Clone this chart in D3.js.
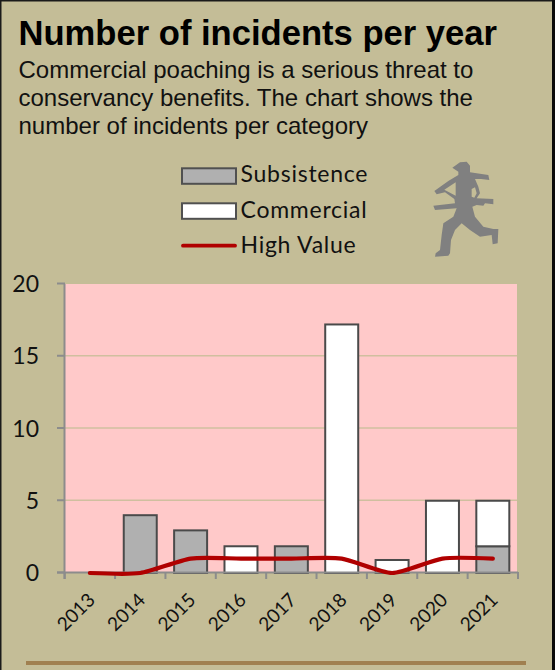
<!DOCTYPE html>
<html>
<head>
<meta charset="utf-8">
<script src="https://cdn.jsdelivr.net/npm/d3@7/dist/d3.min.js"></script>
<style>
html,body{margin:0;padding:0;background:#fff;overflow:hidden}
svg{display:block}
</style>
</head>
<body>
<div id="chart"></div>
<script>
const years = ["2013","2014","2015","2016","2017","2018","2019","2020","2021"];
const subsistence = [0,4,2.95,0,1.85,0,0,0,1.85];
const commercial = [0,0,0,1.85,0,17.2,0.9,5,3.15];
const highValue = [0,0,1,1,1,1,0,1,1];
const yTicks = [0,5,10,15,20];
const titleText = "Number of incidents per year";
const subtitleLines = ["Commercial poaching is a serious threat to","conservancy benefits. The chart shows the","number of incidents per category"];
const legendLabels = ["Subsistence","Commercial","High Value"];
// Decorative running-figure silhouette outline
const runnerOutline = [[105,22],[125,20],[135,32],[135,52],[190,60],[193,75],[168,72],[150,72],[160,95],[165,115],[155,130],[205,132],[205,148],[180,145],[175,152],[155,150],[142,155],[150,185],[175,215],[205,222],[220,222],[218,265],[203,268],[200,240],[165,245],[135,225],[110,205],[90,225],[78,255],[75,295],[70,302],[30,305],[32,295],[45,285],[50,240],[55,205],[85,185],[95,160],[30,165],[25,152],[90,145],[88,132],[60,112],[35,118],[28,108],[70,78],[100,60],[100,50],[82,38]];
const runnerGaps = [[[58,104],[92,82],[92,122]],[[140,102],[150,97],[155,115],[148,128],[140,125]]];

const svg = d3.select("#chart").append("svg").attr("width",560).attr("height",670);
svg.append("rect").attr("x",0).attr("y",0).attr("width",555).attr("height",670).attr("fill","#c4bd97");
svg.append("rect").attr("x",0).attr("y",0).attr("width",1.5).attr("height",670).attr("fill","#1a1a1a");
svg.append("rect").attr("x",0).attr("y",0).attr("width",555).attr("height",1.5).attr("fill","#1a1a1a");
svg.append("rect").attr("x",552).attr("y",0).attr("width",3).attr("height",670).attr("fill","#0a0a0a");

svg.append("text").attr("x",18.5).attr("y",44.5).attr("font-family","'Liberation Sans',Arial,sans-serif")
  .attr("font-weight","bold").attr("font-size",34.6).attr("fill","#000").text(titleText);
const subBase = [77.5,105.5,134];
svg.selectAll("text.sub").data(subtitleLines).join("text").attr("class","sub")
  .attr("x",18.5).attr("y",(d,i)=>subBase[i]).attr("font-family","'Liberation Sans',Arial,sans-serif")
  .attr("font-size",24).attr("fill","#111").text(d=>d);

const x = d3.scaleBand().domain(years).range([64.7,518]).paddingInner(0.345).paddingOuter(0.1725);
const xTickScale = d3.scaleBand().domain(years).range([64.7,518]);
const y = d3.scaleLinear().domain([0,20]).range([573,284]);

svg.append("rect").attr("x",65).attr("y",284).attr("width",452).attr("height",289).attr("fill","#ffc9c9");
svg.selectAll("line.grid").data(yTicks.filter(d=>d>0&&d<20)).join("line").attr("class","grid")
  .attr("x1",65).attr("x2",517).attr("y1",d=>y(d)-.5).attr("y2",d=>y(d)-.5)
  .attr("stroke","#d0bf9f").attr("stroke-width",1.6);

const seriesDefs = [{values:subsistence,fill:"#b0b0b0"},{values:commercial,fill:"#fff"}];
seriesDefs.forEach((s,si)=>{
  svg.append("g").selectAll("rect").data(years).join("rect")
    .filter((d,i)=>s.values[i]>0)
    .attr("x",d=>x(d)).attr("width",x.bandwidth())
    .attr("y",d=>{const i=years.indexOf(d);const base=si?subsistence[i]:0;return y(base+s.values[i]);})
    .attr("height",d=>y(0)-y(s.values[years.indexOf(d)]))
    .attr("fill",s.fill).attr("stroke","#4a4a4a").attr("stroke-width",2);
});

const axisColor = "#8c8c8c";
svg.append("line").attr("x1",64.5).attr("x2",64.5).attr("y1",284).attr("y2",579).attr("stroke",axisColor).attr("stroke-width",2);
svg.append("line").attr("x1",57).attr("x2",518).attr("y1",572.5).attr("y2",572.5).attr("stroke",axisColor).attr("stroke-width",2);
svg.selectAll("line.ytick").data(yTicks).join("line").attr("class","ytick")
  .attr("x1",57).attr("x2",65).attr("y1",d=>y(d)-.5).attr("y2",d=>y(d)-.5).attr("stroke",axisColor).attr("stroke-width",2);
svg.selectAll("line.xtick").data(years.concat(["end"])).join("line").attr("class","xtick")
  .attr("x1",d=>d==="end"?518:xTickScale(d)).attr("x2",d=>d==="end"?518:xTickScale(d))
  .attr("y1",572).attr("y2",579).attr("stroke",axisColor).attr("stroke-width",2);
svg.selectAll("text.ylab").data(yTicks).join("text").attr("class","ylab")
  .attr("x",39).attr("y",d=>y(d)+8).attr("text-anchor","end")
  .attr("font-family","Lato,sans-serif").attr("font-size",23).attr("fill","#111").text(d=>d);
svg.selectAll("text.xlab").data(years).join("text").attr("class","xlab")
  .attr("transform",d=>`translate(${xTickScale(d)+xTickScale.bandwidth()/2-14},${612}) rotate(-45)`)
  .attr("text-anchor","middle").attr("dy","0.35em")
  .attr("font-family","Lato,sans-serif").attr("font-size",19).attr("fill","#111").text(d=>d);

const line = d3.line().x((d,i)=>xTickScale(years[i])+xTickScale.bandwidth()/2).y(d=>y(d)).curve(d3.curveCardinal.tension(0.35));
svg.append("path").attr("d",line(highValue)).attr("fill","none").attr("stroke","#b00000")
  .attr("stroke-width",4.2).attr("stroke-linecap","round").attr("stroke-linejoin","round");

const legendFills = ["#b0b0b0","#fff"];
legendFills.forEach((f,i)=>{
  svg.append("rect").attr("x",182).attr("y",168.3+i*35).attr("width",54).attr("height",15.5)
    .attr("fill",f).attr("stroke","#505050").attr("stroke-width",2);
});
svg.append("line").attr("x1",183).attr("x2",235).attr("y1",245.7).attr("y2",245.7)
  .attr("stroke","#b00000").attr("stroke-width",3.8).attr("stroke-linecap","round");
const legendBase = [181.7,217.7,252.7];
svg.selectAll("text.leg").data(legendLabels).join("text").attr("class","leg")
  .attr("x",240.5).attr("y",(d,i)=>legendBase[i]).attr("font-family","Lato,sans-serif")
  .attr("font-size",23).attr("letter-spacing",0.75).attr("fill","#111").text(d=>d);

const runX = d3.scaleLinear().domain([0,255]).range([425,510]);
const runY = d3.scaleLinear().domain([0,330]).range([155,265]);
const runLine = d3.line().x(d=>runX(d[0])).y(d=>runY(d[1])).curve(d3.curveLinearClosed);
svg.append("path").attr("d",[runnerOutline].concat(runnerGaps).map(runLine).join(" "))
  .attr("fill","#808080").attr("fill-rule","evenodd");

svg.append("rect").attr("x",26).attr("y",661).attr("width",500).attr("height",4).attr("fill","#a08050");
</script>
</body>
</html>
